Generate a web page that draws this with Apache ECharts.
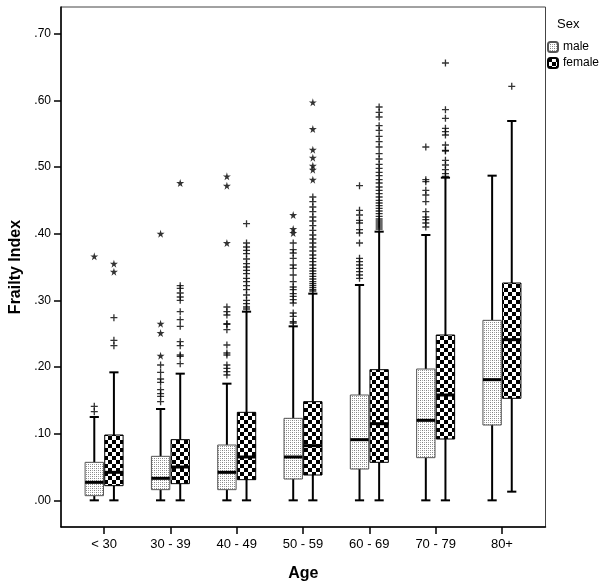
<!DOCTYPE html>
<html>
<head>
<meta charset="utf-8">
<script src="https://cdn.jsdelivr.net/npm/echarts@6/dist/echarts.min.js"></script>
<style>html,body{margin:0;padding:0;background:#fff}#c{width:607px;height:588px}</style>
</head>
<body>
<div id="c"></div>
<script>
// ---- data ----
const categories = ['< 30', '30 - 39', '40 - 49', '50 - 59', '60 - 69', '70 - 79', '80+'];
const yTickValues = [0, 0.1, 0.2, 0.3, 0.4, 0.5, 0.6, 0.7];
const yTickLabels = ['.00', '.10', '.20', '.30', '.40', '.50', '.60', '.70'];
// [min, Q1, median, Q3, max] per age group
const maleBox = [
  [0, 0.007, 0.027, 0.057, 0.125],
  [0, 0.016, 0.033, 0.066, 0.137],
  [0, 0.016, 0.042, 0.083, 0.175],
  [0, 0.032, 0.065, 0.123, 0.261],
  [0, 0.047, 0.091, 0.158, 0.323],
  [0, 0.064, 0.120, 0.197, 0.398],
  [0, 0.113, 0.181, 0.270, 0.487]
];
const femaleBox = [
  [0, 0.022, 0.042, 0.098, 0.192],
  [0, 0.025, 0.050, 0.091, 0.190],
  [0, 0.031, 0.065, 0.132, 0.283],
  [0, 0.038, 0.082, 0.148, 0.310],
  [0, 0.057, 0.115, 0.196, 0.403],
  [0, 0.092, 0.158, 0.248, 0.484],
  [0.013, 0.153, 0.241, 0.326, 0.569]
];
// outliers (drawn as +) per age group
const maleOutliers = [
  [0.133, 0.141],
  [0.148, 0.156, 0.160, 0.166, 0.177, 0.182, 0.192, 0.203],
  [0.188, 0.193, 0.198, 0.203, 0.218, 0.221, 0.233, 0.256, 0.264, 0.265, 0.278, 0.283, 0.290],
  [0.266, 0.268, 0.276, 0.281, 0.296, 0.301, 0.306, 0.310, 0.316, 0.320, 0.328, 0.338, 0.348, 0.353, 0.363, 0.371, 0.376, 0.386],
  [0.333, 0.338, 0.343, 0.348, 0.353, 0.358, 0.363, 0.386, 0.401, 0.406, 0.416, 0.420, 0.428, 0.435, 0.472],
  [0.410, 0.416, 0.421, 0.425, 0.433, 0.448, 0.458, 0.465, 0.478, 0.481, 0.530],
  []
];
const femaleOutliers = [
  [0.232, 0.240, 0.274],
  [0.205, 0.216, 0.218, 0.232, 0.238, 0.261, 0.271, 0.283, 0.300, 0.305, 0.311, 0.318, 0.322],
  [0.287, 0.290, 0.295, 0.300, 0.308, 0.316, 0.322, 0.328, 0.333, 0.340, 0.345, 0.350, 0.355, 0.362, 0.370, 0.375, 0.380, 0.386, 0.415],
  [0.314, 0.316, 0.319, 0.322, 0.325, 0.328, 0.332, 0.336, 0.340, 0.344, 0.348, 0.353, 0.358, 0.363, 0.368, 0.374, 0.380, 0.386, 0.392, 0.398, 0.405, 0.412, 0.419, 0.425, 0.433, 0.440, 0.448, 0.455],
  [0.407, 0.410, 0.413, 0.416, 0.419, 0.422, 0.426, 0.430, 0.434, 0.438, 0.442, 0.446, 0.450, 0.455, 0.460, 0.465, 0.470, 0.476, 0.481, 0.487, 0.492, 0.498, 0.504, 0.512, 0.520, 0.530, 0.538, 0.546, 0.555, 0.562, 0.575, 0.582, 0.590],
  [0.486, 0.490, 0.496, 0.503, 0.510, 0.524, 0.525, 0.533, 0.548, 0.553, 0.558, 0.573, 0.586, 0.656],
  [0.621]
];
// extreme values (drawn as stars) per age group
const maleExtremes = [
  [0.366],
  [0.217, 0.251, 0.265, 0.400],
  [0.386, 0.472, 0.486],
  [0.401, 0.407, 0.428],
  [], [], []
];
const femaleExtremes = [
  [0.343, 0.355],
  [0.476],
  [],
  [0.481, 0.496, 0.502, 0.514, 0.526, 0.557, 0.597],
  [], [], []
];

// ---- styling ----
const FONT = '"Liberation Sans", Arial, sans-serif';
const BOX_FRAC = 0.277;   // box width as fraction of category spacing
const OFF_FRAC = 0.148;   // box center offset from category center

function malePattern() {
  const c = document.createElement('canvas'); c.width = 4; c.height = 4;
  const g = c.getContext('2d');
  g.fillStyle = '#ffffff'; g.fillRect(0, 0, 4, 4);
  g.fillStyle = '#808080'; g.fillRect(0, 0, 1, 1); g.fillRect(2, 2, 1, 1);
  g.fillStyle = '#a8a8a8'; g.fillRect(2, 0, 1, 1); g.fillRect(0, 2, 1, 1);
  return { image: c, repeat: 'repeat' };
}
function femalePattern() {
  const c = document.createElement('canvas'); c.width = 8; c.height = 8;
  const g = c.getContext('2d');
  g.fillStyle = '#ffffff'; g.fillRect(0, 0, 8, 8);
  g.fillStyle = '#000000'; g.fillRect(0, 0, 4, 4); g.fillRect(4, 4, 4, 4);
  return { image: c, repeat: 'repeat' };
}
const mPat = malePattern(), fPat = femalePattern();

function makeRender(sign, fill, border) {
  return function (params, api) {
    const idx = api.value(0);
    const vals = [api.value(1), api.value(2), api.value(3), api.value(4), api.value(5)];
    const unit = api.size([1, 0])[0];
    const w = unit * BOX_FRAC;
    const cx = api.coord([idx + sign * OFF_FRAC, 0])[0];
    const y = vals.map(v => api.coord([idx, v])[1]);
    const lineStyle = { stroke: '#000', lineWidth: 2 };
    return {
      type: 'group',
      children: [
        { type: 'line', shape: { x1: cx, y1: y[3], x2: cx, y2: y[4] }, style: lineStyle },
        { type: 'line', shape: { x1: cx, y1: y[1], x2: cx, y2: y[0] }, style: lineStyle },
        { type: 'line', shape: { x1: cx - w / 4, y1: y[4], x2: cx + w / 4, y2: y[4] }, style: lineStyle },
        { type: 'line', shape: { x1: cx - w / 4, y1: y[0], x2: cx + w / 4, y2: y[0] }, style: lineStyle },
        { type: 'rect', shape: { x: cx - w / 2, y: y[3], width: w, height: y[1] - y[3] },
          style: { fill: fill, stroke: border, lineWidth: 1 } },
        { type: 'line', shape: { x1: cx - w / 2, y1: y[2], x2: cx + w / 2, y2: y[2] },
          style: { stroke: '#000', lineWidth: 3 } }
      ]
    };
  };
}

const boxData = arr => arr.map((b, i) => [i].concat(b));
const ptData = (arr, sign) => arr.flatMap((list, i) => list.map(v => [i + sign * OFF_FRAC, v]));

const PLUS = 'path://M3.25,0H4.75V3.25H8V4.75H4.75V8H3.25V4.75H0V3.25H3.25Z';
const STAR = 'path://M50,0L61,35L98,35L68,57L79,91L50,70L21,91L32,57L2,35L39,35Z';

const chart = echarts.init(document.getElementById('c'), null, { renderer: 'canvas' });
chart.setOption({
  animation: false,
  backgroundColor: '#fff',
  textStyle: { fontFamily: FONT },
  title: {
    text: 'Sex', left: 557, top: 18, padding: 0,
    textStyle: { fontFamily: FONT, fontSize: 13, fontWeight: 'normal', color: '#000' }
  },
  legend: {
    data: ['male', 'female'], orient: 'vertical', left: 547, top: 41, padding: 0,
    itemWidth: 10, itemHeight: 10, itemGap: 4, selectedMode: false,
    textStyle: { fontFamily: FONT, fontSize: 12, color: '#000' }
  },
  grid: {
    left: 61, right: 61.5, top: 7, bottom: 61, show: true, containLabel: false,
    outerBoundsMode: 'none',
    borderColor: '#444', borderWidth: 1, backgroundColor: 'transparent'
  },
  xAxis: {
    type: 'value', min: -0.65, max: 6.657,
    name: 'Age', nameLocation: 'middle', nameGap: 39,
    nameTextStyle: { fontFamily: FONT, fontSize: 16, fontWeight: 'bold', color: '#000' },
    axisLine: { show: true, onZero: false, lineStyle: { color: '#000', width: 1.5 } },
    axisTick: { show: true, customValues: categories.map((c, i) => i), length: 7, lineStyle: { color: '#000', width: 1.5 } },
    axisLabel: { customValues: categories.map((c, i) => i), formatter: v => categories[Math.round(v)],
      color: '#000', fontSize: 13, margin: 11, fontFamily: FONT },
    splitLine: { show: false }
  },
  yAxis: {
    type: 'value', min: -0.04, max: 0.74,
    name: 'Frailty Index', nameLocation: 'middle', nameGap: 35,
    nameTextStyle: { fontFamily: FONT, fontSize: 16, fontWeight: 'bold', color: '#000' },
    axisLine: { show: true, onZero: false, lineStyle: { color: '#000', width: 1.5 } },
    axisTick: { show: true, customValues: yTickValues, length: 7, lineStyle: { color: '#000', width: 1.5 } },
    axisLabel: { customValues: yTickValues, formatter: v => yTickLabels[yTickValues.findIndex(t => Math.abs(t - v) < 1e-9)],
      color: '#000', fontSize: 12, margin: 10, fontFamily: FONT },
    splitLine: { show: false }
  },
  series: [
    { name: 'male', type: 'custom', renderItem: makeRender(-1, mPat, '#555'),
      itemStyle: { color: mPat, borderColor: '#555', borderWidth: 1 },
      encode: { x: 0, y: [1, 2, 3, 4, 5] }, data: boxData(maleBox), z: 2 },
    { name: 'female', type: 'custom', renderItem: makeRender(1, fPat, '#000'),
      itemStyle: { color: fPat, borderColor: '#000', borderWidth: 1 },
      encode: { x: 0, y: [1, 2, 3, 4, 5] }, data: boxData(femaleBox), z: 2 },
    { name: 'male outliers', type: 'scatter', symbol: PLUS, symbolSize: 7,
      itemStyle: { color: '#000' }, data: ptData(maleOutliers, -1), z: 3 },
    { name: 'female outliers', type: 'scatter', symbol: PLUS, symbolSize: 7,
      itemStyle: { color: '#000' }, data: ptData(femaleOutliers, 1), z: 3 },
    { name: 'male extremes', type: 'scatter', symbol: STAR, symbolSize: 8,
      itemStyle: { color: '#000' }, data: ptData(maleExtremes, -1), z: 3 },
    { name: 'female extremes', type: 'scatter', symbol: STAR, symbolSize: 8,
      itemStyle: { color: '#000' }, data: ptData(femaleExtremes, 1), z: 3 }
  ]
});
</script>
</body>
</html>
